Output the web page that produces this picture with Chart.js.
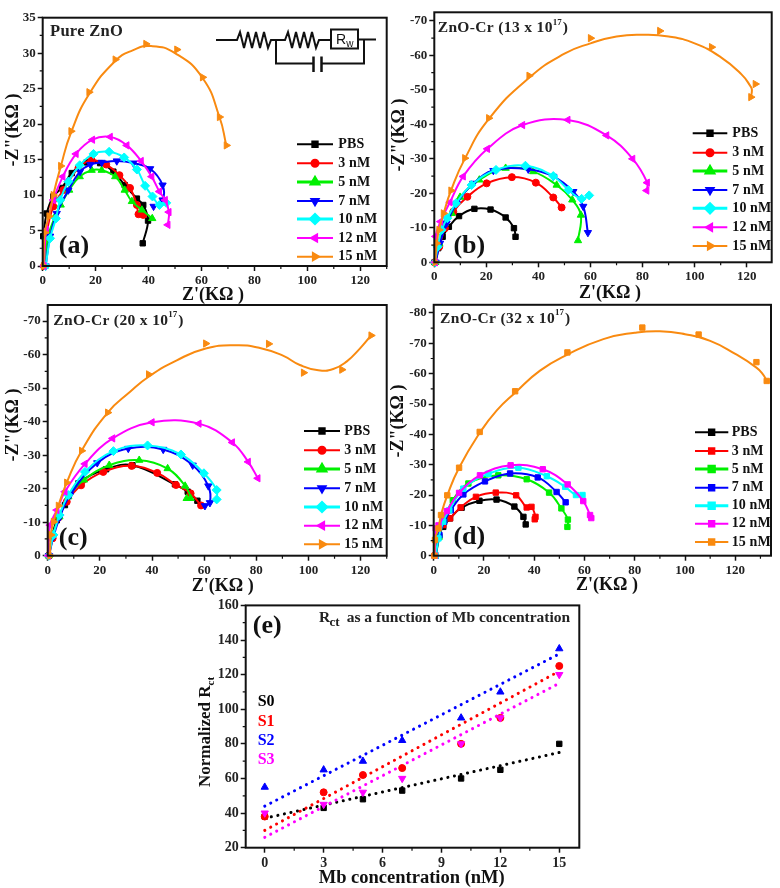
<!DOCTYPE html>
<html><head><meta charset="utf-8">
<style>
html,body{margin:0;padding:0;background:#fff;width:780px;height:888px;overflow:hidden}
canvas{position:absolute}
svg{position:absolute;left:0;top:0}
</style>
<script src="https://cdn.jsdelivr.net/npm/chart.js@4"></script>
</head><body>
<canvas id="ca" width="390" height="305" style="left:0;top:0"></canvas>
<canvas id="cb" width="390" height="305" style="left:390px;top:0"></canvas>
<canvas id="cc" width="390" height="300" style="left:0;top:295px"></canvas>
<canvas id="cd" width="390" height="300" style="left:390px;top:295px"></canvas>
<canvas id="ce" width="400" height="293" style="left:190px;top:595px"></canvas>
<svg width="390" height="80" fill="none" stroke="#111" stroke-width="2">
  <path d="M216 40H237l3-8 4 16 4-16 4 16 4-16 4 16 4-16 4 16 3-8H276H285l3-8 4 16 4-16 4 16 4-16 4 16 4-16 4 16 3-8H331"/>
  <rect x="331" y="29.5" width="27" height="19"/>
  <path d="M358 39.500H376M276 40V63.500H313M322 63.500H364V39.500"/>
  <path d="M313.500 56.500V72M321.500 56.500V72" stroke-width="2.500"/>
  <text x="336" y="44" font-family="Liberation Sans" font-size="14" fill="#111" stroke="none">R<tspan font-size="10" dy="3">w</tspan></text>
</svg>
<script>
const seriesLabels = ['PBS','3 nM','5 nM','7 nM','10 nM','12 nM','15 nM'];
const seriesColors = ['#000000','#ff0000','#00f000','#0000ff','#00ffff','#ff00ff','#f98a10'];
const triStyles = [['rect',0],['circle',0],['triangle',0],['triangle',180],['rectRot',0],['triangle',270],['triangle',90]];
const styleRadius = {rect:3.8,circle:3.5,triangle:4.2,rectRot:4.5};

// Panel (a)
const aPBS=[[0.2,4.2],[1.5,7.4],[4,9.8],[7.2,11],[11,13.1],[16.6,14.6],[21.7,14.5],[26.7,13.3],[31,11.4],[35.6,9.5],[38,8.6],[39.8,6.4],[37.8,3.2]];
const a3=[[0.5,0],[1.5,4.6],[4,8.4],[7.8,10.7],[13.5,13.8],[18.5,14.9],[24,14.3],[29,12.8],[33,11],[35.6,8.6],[36.2,7.3],[38,7.2]];
const a5=[[0.9,0],[2.1,4.2],[4.7,7],[6.8,8.6],[10,10.7],[14,12.6],[18.5,13.5],[22.3,13.5],[27.4,12.6],[31,10.7],[33.7,9.1],[37.5,7.9],[41.4,6.7]];
const a7=[[1.1,0],[2.8,4.2],[5.3,7.4],[9.7,10.7],[14.1,13.3],[18,14.3],[22.3,14.6],[28,14.8],[34.3,14.5],[40.6,13.7],[45.3,11.4],[45.3,9.3],[41.9,8.4]];
const a10=[[1.1,0],[2.8,3.9],[5,6.7],[6.6,9.3],[9.7,11.9],[14,14.2],[19.2,15.8],[25.1,16.1],[30.8,15.3],[35.6,13.6],[38.7,11.3],[41.5,9.8],[44.1,8.6],[46.7,8.9]];
const a12=[[0.5,0],[1.3,5.1],[4,9.3],[7.6,12.6],[12.6,15.8],[18.8,17.8],[25.5,18.2],[31.8,17],[37.2,14.8],[41.2,12.6],[44.1,10.5],[46.3,9.3],[47.7,7.6],[47.3,5.8]];
const a15=[[0.3,0],[0.8,4.7],[2.4,7],[4,10],[6.8,14.1],[10.7,19],[17.5,24.5],[27.4,29.1],[39,31.3],[50.7,30.5],[60.4,26.6],[66.8,21],[69.4,17]];
const a15Fit=[[0.3,0],[0.8,4.7],[2.4,7],[4,10],[6.8,14],[10.7,18.8],[17.5,24.2],[27.4,28.9],[34,30.4],[41,31],[50,30],[60.4,26.5],[66.8,21],[69.4,17]];

// Panel (b)
const bPBS=[[0.1,0],[1.5,-4.1],[3.2,-7.4],[5.6,-10.3],[9.5,-13.4],[15.4,-15.5],[21.6,-15.3],[27.4,-13],[30.6,-9.9],[31.2,-7.4]];
const b3=[[0.4,0],[1.9,-4.5],[4.1,-9.9],[7.3,-14.7],[12.7,-19],[20.1,-22.9],[29.8,-24.7],[39,-23.1],[45.7,-18.8],[48.9,-15.9]];
const b5=[[0.4,0],[1.9,-5.5],[4.1,-11.3],[6.7,-14.2],[9.9,-18.9],[17.3,-23.9],[27.4,-27.3],[38,-26.3],[47,-22.4],[53,-18.1],[56.3,-13.7],[55.2,-6.3]];
const b7=[[0.5,0],[2.2,-5.5],[4.7,-11.3],[8.6,-17.1],[15,-22.9],[22.7,-26.6],[36.1,-27],[45.7,-24.9],[53.4,-20.5],[57.2,-16.2],[59,-8.6]];
const b10=[[0.3,0],[1.3,-4.5],[2.8,-9.4],[5,-12.8],[8.3,-17.1],[14.3,-22.4],[23.7,-26.8],[35,-28],[45.7,-25],[51.5,-21],[56.6,-18.4],[59.5,-19.4]];
const b12=[[0.3,0],[0.5,-7.5],[2.4,-11.8],[6,-17.4],[11.1,-24.9],[20.4,-32.9],[33.9,-39.8],[51.3,-41.3],[66.2,-36.8],[76.2,-30],[81.8,-23.1],[81.6,-20.8]];
const b15=[[0.4,0],[0.9,-5.5],[1.8,-9.4],[3.5,-14.2],[6.4,-20.8],[11.7,-30.2],[20.9,-41.8],[36.4,-54.1],[60,-65],[86.6,-67.1],[106.5,-62.4],[123.3,-51.7],[121.6,-47.9]];
const b15Fit=[[0.4,0],[1,-6],[2,-10],[3.5,-14],[6.4,-20.8],[11.7,-30],[20.9,-41.5],[36.4,-53.5],[50,-60.5],[60,-63.5],[70,-65.5],[80,-66],[90,-65.5],[100,-63.5],[110,-59.5],[118,-54.5],[121.5,-51],[122,-50],[121.6,-47.9]];

// Panel (c)
const cPBS=[[0.4,0],[1.5,-5.2],[3.5,-10.6],[6.6,-15.1],[11.8,-21.6],[22.4,-25.8],[32.5,-27],[48.8,-21.3],[53.7,-19.1],[57.4,-16.4]];
const c3=[[0.4,0],[1.9,-5.2],[4.1,-11.3],[7.3,-16.1],[12.8,-21],[21.3,-25],[32.2,-26.8],[42,-24.7],[49.2,-21.1],[54.8,-18.6],[58.8,-15]];
const c5=[[0.4,0],[1.9,-6.2],[4.5,-11.6],[7.9,-17.6],[13.9,-22.6],[23.6,-27],[35.1,-28.5],[46,-26],[52.7,-20.8],[54.8,-17.1],[53.3,-17.1]];
const c7=[[0.5,0],[2.2,-5.7],[4.7,-11.6],[8.6,-18.1],[19,-27.7],[30.9,-32],[44.3,-31.7],[55.6,-27],[61.6,-20.8],[62.2,-15.8],[60.3,-14.9]];
const c10=[[0.4,0],[2.2,-6.2],[4.5,-12.1],[7.9,-18.1],[14.3,-25],[25.2,-31.2],[38.3,-32.9],[51.1,-30.2],[59.9,-24.6],[64.8,-19.6],[64.8,-16.8]];
const c12=[[0.3,0],[0.9,-9.1],[3.5,-13.6],[6.6,-19.1],[14.3,-27.4],[24.9,-35],[40,-39.8],[58,-39.4],[70.8,-33.8],[76.9,-28],[80.6,-23.1]];
const c15=[[0.9,0],[1.2,-6.2],[2.2,-10.1],[4.1,-14.9],[7.3,-21.8],[13,-31.3],[23,-42.7],[38.7,-54.1],[60.6,-63.3],[84.7,-63.2],[98.1,-54.6],[112.8,-55.5],[124,-65.7]];
const c15Fit=[[0.9,0],[1.2,-6.2],[2.2,-10.1],[4.1,-14.9],[7.3,-21.8],[13,-31.3],[23,-42.7],[31.6,-48.9],[38.7,-53.4],[49.5,-58.3],[60.6,-61.8],[71.8,-62.8],[81.4,-62],[90.4,-59.6],[96.7,-56.9],[103.8,-55.3],[109.5,-55.7],[114.6,-57.9],[119.7,-61.8],[124,-65.7]];

// Panel (d)
const dPBS=[[0.4,0],[1.5,-6.2],[3.8,-9.5],[6.5,-12.3],[11.1,-15.8],[18.2,-18.1],[25,-18.5],[32.1,-16.2],[35.7,-12.8],[36.6,-10.3]];
const d3=[[0.4,0],[1.5,-6.2],[3.8,-10.1],[6.5,-12.3],[10.7,-15.9],[16.8,-19.4],[24.7,-20.8],[32.8,-19.9],[37,-15.9],[38.9,-16.1],[40.5,-12.8],[40.2,-12]];
const d5=[[0.8,0],[2.3,-6.2],[4.2,-11.7],[7.6,-18.3],[13.8,-23.8],[25.7,-26.5],[37,-25.2],[45.9,-20.8],[50.8,-15.6],[53.4,-11.9],[53.2,-9.5]];
const d7=[[0.8,0],[2.3,-6.8],[4.2,-11.2],[6.8,-15],[11.8,-20.2],[20.4,-24.5],[30.4,-27.1],[41.4,-25.8],[48.9,-21],[52.5,-17.6]];
const d10=[[0.8,0],[1.9,-5.7],[3.8,-11.2],[6.2,-15],[11.8,-22.1],[21.8,-27],[33.7,-29],[45,-26.2],[52.3,-22.7],[56.6,-20],[59.2,-20]];
const d12=[[0.5,0],[0.8,-9],[1.9,-10],[5.2,-14.7],[10.1,-20.7],[18.4,-26.5],[30.6,-29.8],[43.4,-28.5],[53.3,-23.5],[59.5,-18],[62.2,-13.4],[62.7,-12.4]];
const d15=[[0.3,0],[0.5,-5.2],[1.9,-9],[2.9,-13.4],[5.4,-19.9],[10.1,-29],[18.3,-40.8],[32.4,-54.2],[53.2,-67],[83,-75.2],[105.4,-72.9],[128.4,-63.8],[132.5,-57.6]];
const d15Fit=[[0.3,0],[0.5,-5.2],[1.9,-9],[2.9,-13.4],[5.4,-19.9],[10.1,-29],[18.3,-40.5],[25.1,-47.9],[32.4,-53.7],[42.3,-61],[53.2,-66.3],[67.5,-71.4],[80,-73.5],[90,-74],[100,-73],[110,-70.8],[120,-66.5],[128.4,-62],[131,-59.8],[132.5,-57.6]];

// Panel (e)
const mbConc=[0,3,5,7,10,12,15];
const s0=[38,43,48,53,60,65,80];
const s1=[38,52,62,66,80,95,125];
const s2=[55,65,70,82,95,110,135];
const s3=[40,45,52,60,80,95,120];
const trendEnds=[0,15];
const s0Trend=[37,75];
const s1Trend=[30,122];
const s2Trend=[44,132];
const s3Trend=[26,115];

// Tick labels
const ticksX130=[0,20,40,60,80,100,120];
const ticksYa=[0,5,10,15,20,25,30,35];
const ticksYb=[0,-10,-20,-30,-40,-50,-60,-70];
const ticksYd=[0,-10,-20,-30,-40,-50,-60,-70,-80];
const ticksXe=[0,3,6,9,12,15];
const ticksYe=[20,40,60,80,100,120,140,160];

const SERIF='"Liberation Serif"';
const pts=a=>a.map(p=>({x:p[0],y:p[1]}));

function sText(ctx,s,x,y,font,color,align,rot,ls){
  ctx.save();ctx.font=font;ctx.fillStyle=color||'#111';ctx.textAlign=align||'left';ctx.textBaseline='middle';
  ctx.letterSpacing=(ls||0)+'px';
  ctx.translate(x,y);if(rot)ctx.rotate(rot);ctx.fillText(s,0,0);ctx.restore();
}
function panelPlugin(c){
  return {id:'panel'+c.id,afterDraw(chart){
    const ctx=chart.ctx,a=chart.chartArea;
    ctx.save();ctx.strokeStyle='#111';ctx.lineWidth=2;ctx.strokeRect(a.left,a.top,a.right-a.left,a.bottom-a.top);
    ctx.lineWidth=1.2;ctx.beginPath();
    const xs=chart.scales.x,ys=chart.scales.y;
    const xt=c.xt,yt=c.yt,xstep=xt[1]-xt[0],ystep=yt[1]-yt[0];
    for(let i=0;i<=xt.length;i++){const v=xt[0]+(i+0.5)*xstep;if(v>=xs.min&&v<=xs.max){const p=xs.getPixelForValue(v);ctx.moveTo(p,a.bottom);ctx.lineTo(p,a.bottom+3);}}
    for(let i=0;i<=yt.length;i++){const v=yt[0]+(i+0.5)*ystep;if(v>=ys.min&&v<=ys.max){const p=ys.getPixelForValue(v);ctx.moveTo(a.left,p);ctx.lineTo(a.left-3,p);}}
    ctx.stroke();ctx.restore();
    ctx.save();ctx.translate(-c.canvas.l,-c.canvas.t);
    c.draw(ctx);
    ctx.restore();
  }};
}
function legendDraw(ctx,L,styles){
  seriesLabels.forEach((lab,i)=>{
    const y=L.ys[i],col=seriesColors[i];
    ctx.save();ctx.strokeStyle=col;ctx.lineWidth=i===2||i===4?3:2;ctx.beginPath();ctx.moveTo(L.x0,y);ctx.lineTo(L.x1,y);ctx.stroke();
    ctx.fillStyle=col;Chart.helpers.drawPoint(ctx,{pointStyle:styles[i][0],rotation:styles[i][1],radius:styleRadius[styles[i][0]],borderWidth:1},(L.x0+L.x1)/2,y);ctx.fill();
    ctx.restore();
    sText(ctx,lab,L.tx,y,'bold 14px '+SERIF,'#111','left',0,0.1);
  });
}
function supTitle(ctx,pre,x,y){
  const f='bold 15.5px '+SERIF;ctx.save();ctx.font=f;ctx.letterSpacing='0.35px';const w=ctx.measureText(pre).width;ctx.restore();
  sText(ctx,pre,x,y,f,'#222','left',0,0.35);
  sText(ctx,'17',x+w,y-6,'bold 9px '+SERIF,'#222');
  sText(ctx,')',x+w+10,y,f,'#222');
}
function axisOpts(ticks,min,max,reverse,fs,afterFit){
  return {type:'linear',min,max,reverse,
    afterBuildTicks:s=>{s.ticks=ticks.map(v=>({value:v}));},
    afterFit,
    border:{display:false},
    grid:{drawOnChartArea:false,drawTicks:true,tickLength:5,tickWidth:1.5,tickColor:'#111'},
    ticks:{autoSkip:false,maxRotation:0,padding:2,color:'#222',font:{family:'Liberation Serif',weight:'bold',size:fs},callback:v=>String(v)}
  };
}
function makeChart(c){
  const W=c.canvas.w,H=c.canvas.h,A=c.area;
  return new Chart(document.getElementById(c.id),{
    type:'scatter',
    data:{datasets:c.datasets},
    options:{
      responsive:false,animation:false,events:[],
      layout:{autoPadding:false,padding:{left:0,bottom:0,top:A.t-c.canvas.t,right:c.canvas.l+W-A.r}},
      plugins:{legend:{display:false},tooltip:{enabled:false},title:{display:false}},
      scales:{
        x:axisOpts(c.xt,c.xmin,c.xmax,false,c.fs,s=>{s.height=c.canvas.t+H-A.b;}),
        y:axisOpts(c.yt,c.ymin,c.ymax,c.yrev,c.fs,s=>{s.width=A.l-c.canvas.l;})
      }
    },
    plugins:[panelPlugin(c)]
  });
}
function nyquist(series,fits,styles){
  const out=[],n=series.length;
  series.forEach((d,i)=>{
    const fit=fits[i],col=seriesColors[i];
    if(fit){
      out.push({label:seriesLabels[i]+' fit',data:pts(fit),showLine:true,tension:0.5,borderColor:col,borderWidth:2,pointRadius:0,order:n-i,clip:false});
    }
    out.push({label:seriesLabels[i],data:pts(d),showLine:!fit,tension:0.4,borderColor:col,borderWidth:2,backgroundColor:col,pointBackgroundColor:col,pointBorderColor:col,pointBorderWidth:1,pointRadius:styleRadius[styles[i][0]],pointStyle:styles[i][0],pointRotation:styles[i][1],order:n-i,clip:false});
  });
  return out;
}
const boldAxis='bold 18px '+SERIF,panelFont='bold 26px '+SERIF;
const allRect=seriesLabels.map(()=>['rect',0]);

makeChart({id:'ca',canvas:{l:0,t:0,w:390,h:305},area:{l:42.7,t:17.7,r:386.7,b:266},fs:13,
  xmin:0,xmax:130,ymin:0,ymax:35,yrev:false,xt:ticksX130,yt:ticksYa,
  datasets:nyquist([aPBS,a3,a5,a7,a10,a12,a15],[0,0,0,0,0,0,a15Fit],triStyles),
  draw(ctx){
    sText(ctx,'Pure ZnO',50,32,'bold 16.5px '+SERIF,'#222','left',0,0.3);
    sText(ctx,'(a)',74,246,panelFont,'#111','center');
    sText(ctx,"Z'(KΩ )",213,295,boldAxis,'#111','center');
    sText(ctx,'-Z"(KΩ )',13,130,boldAxis,'#111','center',-Math.PI/2);
    legendDraw(ctx,{x0:297,x1:333,tx:338.3,ys:[144.3,163.3,182,201,219,238,256.7]},triStyles);
  }});
makeChart({id:'cb',canvas:{l:390,t:0,w:390,h:305},area:{l:434.3,t:12.3,r:771.7,b:262.3},fs:13,
  xmin:0,xmax:129.6,ymin:-72.5,ymax:0,yrev:true,xt:ticksX130,yt:ticksYb,
  datasets:nyquist([bPBS,b3,b5,b7,b10,b12,b15],[0,0,0,0,0,0,b15Fit],triStyles),
  draw(ctx){
    supTitle(ctx,'ZnO-Cr (13 x 10',437.7,28.3);
    sText(ctx,'(b)',469.3,246,panelFont,'#111','center');
    sText(ctx,"Z'(KΩ )",610,293,boldAxis,'#111','center');
    sText(ctx,'-Z"(KΩ )',399,135,boldAxis,'#111','center',-Math.PI/2);
    legendDraw(ctx,{x0:692.7,x1:727.3,tx:732.3,ys:[133.3,152.7,171,190,208.3,227.3,246]},triStyles);
  }});
makeChart({id:'cc',canvas:{l:0,t:295,w:390,h:300},area:{l:47.7,t:305,r:386.7,b:555.7},fs:13,
  xmin:0,xmax:130,ymin:-74.8,ymax:0,yrev:true,xt:ticksX130,yt:ticksYb,
  datasets:nyquist([cPBS,c3,c5,c7,c10,c12,c15],[0,0,0,0,0,0,c15Fit],triStyles),
  draw(ctx){
    supTitle(ctx,'ZnO-Cr (20 x 10',53.3,321);
    sText(ctx,'(c)',73.3,538.3,panelFont,'#111','center');
    sText(ctx,"Z'(KΩ )",222.7,586,boldAxis,'#111','center');
    sText(ctx,'-Z"(KΩ )',13.3,425,boldAxis,'#111','center',-Math.PI/2);
    legendDraw(ctx,{x0:304,x1:340,tx:344.3,ys:[431,450.3,469,488.3,507,525.7,544.3]},triStyles);
  }});
makeChart({id:'cd',canvas:{l:390,t:295,w:390,h:300},area:{l:433.7,t:304.3,r:771,b:555.7},fs:13,
  xmin:0,xmax:134.2,ymin:-82.7,ymax:0,yrev:true,xt:ticksX130,yt:ticksYd,
  datasets:nyquist([dPBS,d3,d5,d7,d10,d12,d15],[0,0,0,0,0,0,d15Fit],allRect),
  draw(ctx){
    supTitle(ctx,'ZnO-Cr (32 x 10',440,319);
    sText(ctx,'(d)',469.3,537.7,panelFont,'#111','center');
    sText(ctx,"Z'(KΩ )",607,585,boldAxis,'#111','center');
    sText(ctx,'-Z"(KΩ )',398,421,boldAxis,'#111','center',-Math.PI/2);
    legendDraw(ctx,{x0:695,x1:728.3,tx:731.7,ys:[432.3,451,469,487.7,505.7,523.7,542]},allRect);
  }});

const rctColors=['#000000','#ff0000','#0000ff','#ff00ff'];
const rctNames=['S0','S1','S2','S3'];
const rctStyles=[['rect',0],['circle',0],['triangle',0],['triangle',180]];
const eDatasets=[];
[s0,s1,s2,s3].forEach((v,i)=>{
  eDatasets.push({label:rctNames[i],data:v.map((y,k)=>({x:mbConc[k],y})),showLine:false,backgroundColor:rctColors[i],pointBackgroundColor:rctColors[i],pointBorderColor:rctColors[i],pointRadius:styleRadius[rctStyles[i][0]],pointStyle:rctStyles[i][0],pointRotation:rctStyles[i][1],order:4-i,clip:false});
});
[s0Trend,s1Trend,s2Trend,s3Trend].forEach((v,i)=>{
  eDatasets.push({label:rctNames[i]+' fit',data:v.map((y,k)=>({x:trendEnds[k],y})),showLine:true,borderColor:rctColors[i],borderWidth:3,borderDash:[0.1,6.6],borderCapStyle:'round',pointRadius:0,tension:0,order:10-i});
});
makeChart({id:'ce',canvas:{l:190,t:595,w:400,h:293},area:{l:245.7,t:604.3,r:579.3,b:847.7},fs:14,
  xmin:-0.97,xmax:16.02,ymin:20,ymax:160,yrev:false,xt:ticksXe,yt:ticksYe,
  datasets:eDatasets,
  draw(ctx){
    sText(ctx,'(e)',267.3,626.7,panelFont,'#111','center');
    const f='bold 15.5px '+SERIF;
    sText(ctx,'R',319,618,f,'#222');
    sText(ctx,'ct',329.5,623,'bold 13px '+SERIF,'#222');
    sText(ctx,'as a function of Mb concentration',346.7,618,f,'#222');
    sText(ctx,'Mb concentration (nM)',411.7,878,'bold 18.5px '+SERIF,'#111','center');
    ctx.save();ctx.translate(205.7,740);ctx.rotate(-Math.PI/2);
    sText(ctx,'Normalized R',-47,0,'bold 17px '+SERIF,'#111','left');
    ctx.font='bold 17px '+SERIF;
    sText(ctx,'ct',-47+ctx.measureText('Normalized R').width,5,'bold 11px '+SERIF,'#111','left');
    ctx.restore();
    const ys=[702.3,722.3,740.7,760];
    rctNames.forEach((n,i)=>sText(ctx,n,257.7,ys[i],'bold 16px '+SERIF,rctColors[i]));
  }});
</script>
</body></html>
